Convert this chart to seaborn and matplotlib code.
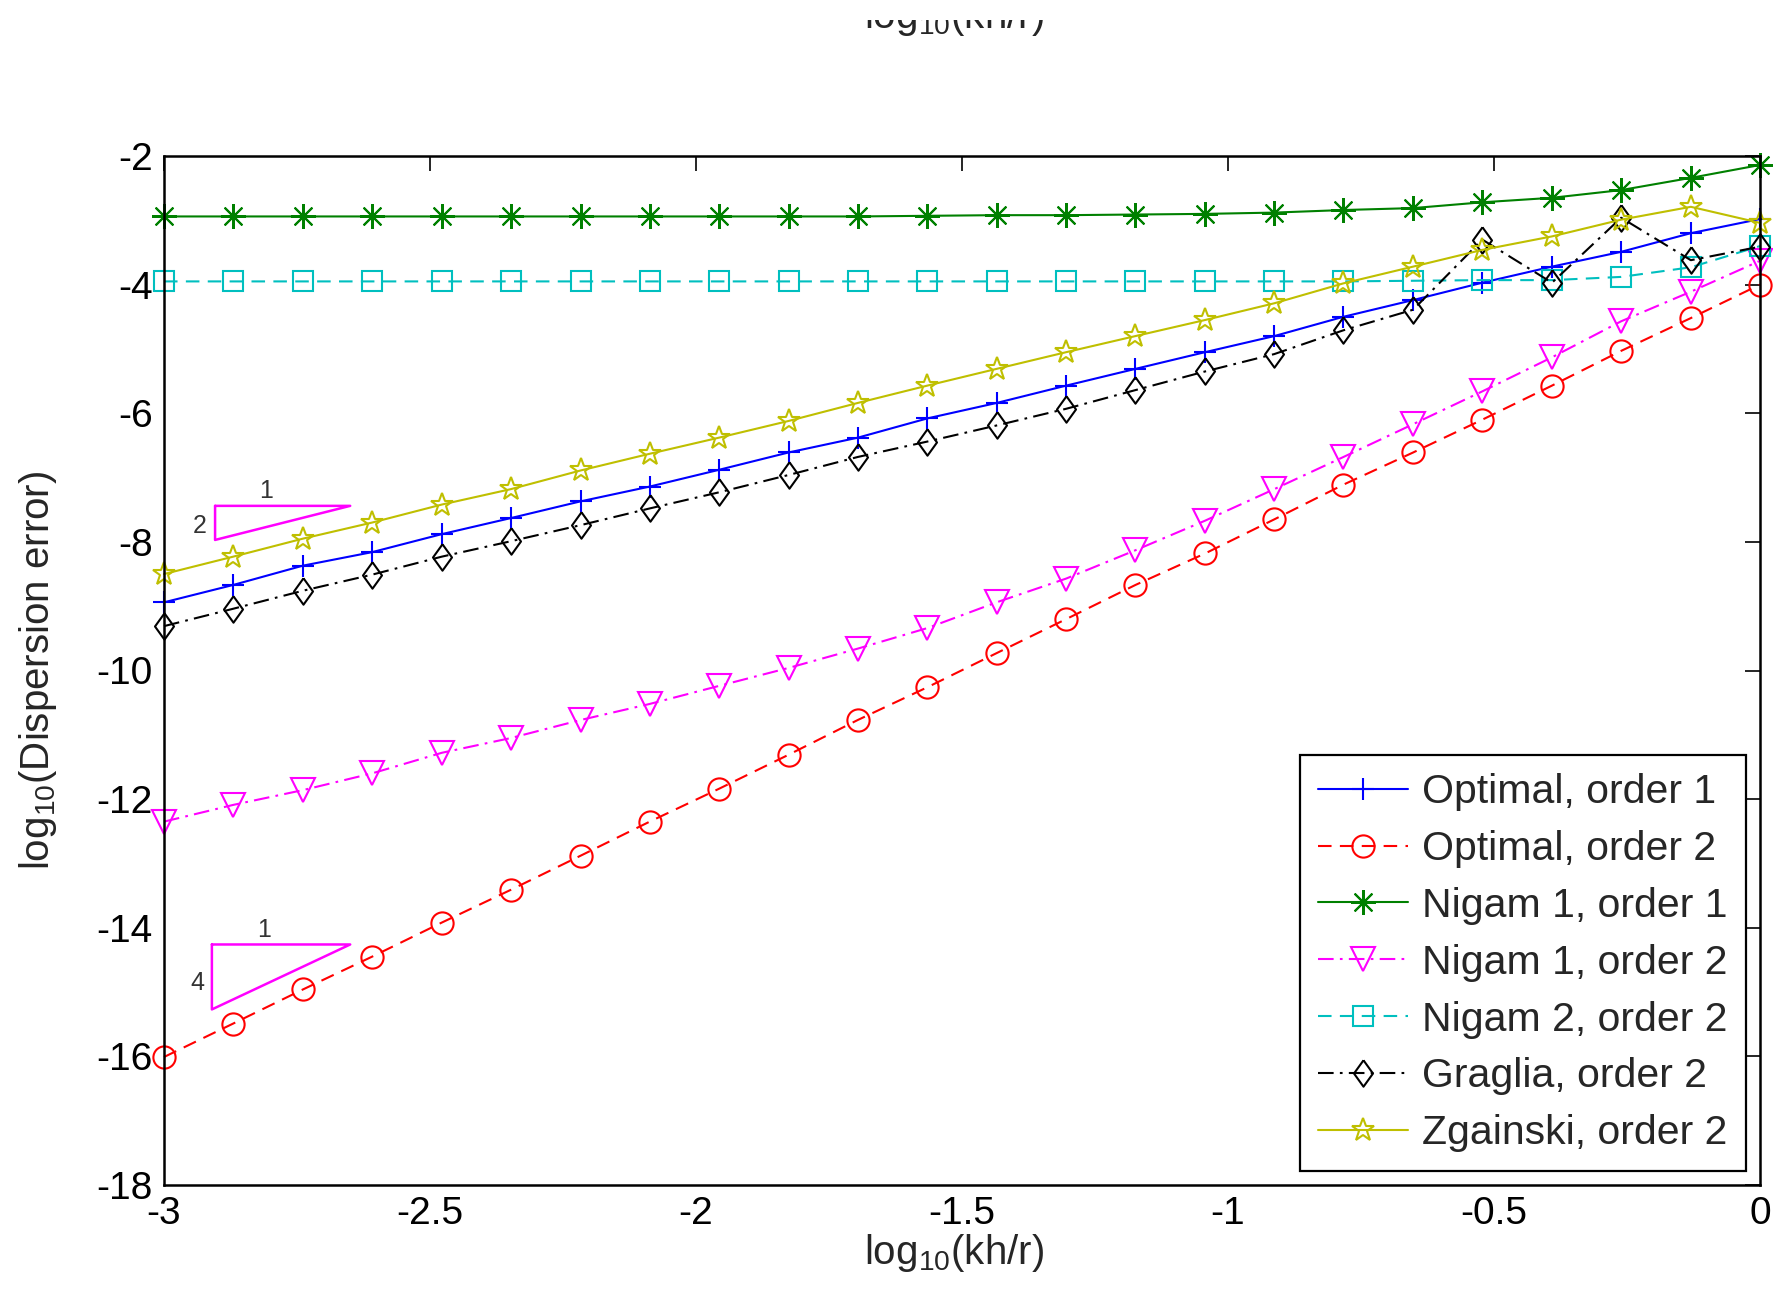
import numpy as np
import pandas as pd
import matplotlib
matplotlib.use("Agg")
import matplotlib.pyplot as plt
from matplotlib.patches import Rectangle
import seaborn as sns

# ---------------- data ----------------
log_kh = [-3.0, -2.870, -2.739, -2.609, -2.478, -2.348, -2.217, -2.087,
          -1.957, -1.826, -1.696, -1.565, -1.435, -1.304, -1.174, -1.043,
          -0.913, -0.783, -0.652, -0.522, -0.391, -0.261, -0.130, 0.0]

optimal_o1 = [-8.94, -8.67, -8.37, -8.16, -7.88, -7.63, -7.37, -7.14, -6.88, -6.61,
              -6.38, -6.08, -5.84, -5.57, -5.31, -5.05, -4.80, -4.50, -4.24, -3.97,
              -3.72, -3.49, -3.20, -2.98]
optimal_o2 = [-16.01, -15.49, -14.96, -14.45, -13.92, -13.41, -12.88, -12.35, -11.84,
              -11.31, -10.77, -10.26, -9.73, -9.20, -8.67, -8.18, -7.65, -7.11, -6.61,
              -6.10, -5.57, -5.03, -4.52, -4.00]
nigam1_o1 = [-2.94, -2.94, -2.94, -2.94, -2.94, -2.94, -2.94, -2.94, -2.94, -2.94,
             -2.94, -2.93, -2.92, -2.92, -2.91, -2.90, -2.88, -2.84, -2.81, -2.72,
             -2.65, -2.53, -2.34, -2.14]
nigam1_o2 = [-12.35, -12.09, -11.86, -11.60, -11.28, -11.05, -10.77, -10.52, -10.24,
             -9.96, -9.66, -9.34, -8.94, -8.57, -8.13, -7.67, -7.18, -6.68, -6.17,
             -5.66, -5.13, -4.57, -4.11, -3.63]
nigam2_o2 = [-3.95, -3.95, -3.95, -3.95, -3.95, -3.95, -3.95, -3.95, -3.95, -3.95,
             -3.95, -3.95, -3.95, -3.95, -3.95, -3.95, -3.95, -3.95, -3.94, -3.93,
             -3.93, -3.88, -3.73, -3.40]
graglia_o2 = [-9.31, -9.04, -8.76, -8.51, -8.23, -7.99, -7.74, -7.48, -7.23, -6.96,
              -6.68, -6.44, -6.19, -5.93, -5.64, -5.35, -5.08, -4.71, -4.39, -3.30,
              -3.97, -2.96, -3.62, -3.41]
zgainski_o2 = [-8.50, -8.23, -7.95, -7.70, -7.42, -7.18, -6.89, -6.63, -6.38, -6.12,
               -5.84, -5.57, -5.31, -5.05, -4.80, -4.55, -4.29, -3.98, -3.72, -3.46,
               -3.25, -2.99, -2.79, -3.04]

labels = ["Optimal, order 1", "Optimal, order 2", "Nigam 1, order 1",
          "Nigam 1, order 2", "Nigam 2, order 2", "Graglia, order 2",
          "Zgainski, order 2"]

x_ticks = [-3, -2.5, -2, -1.5, -1, -0.5, 0]
x_ticklabels = ["-3", "-2.5", "-2", "-1.5", "-1", "-0.5", "0"]
y_ticks = [-18, -16, -14, -12, -10, -8, -6, -4, -2]
y_ticklabels = ["-18", "-16", "-14", "-12", "-10", "-8", "-6", "-4", "-2"]

# slope triangles (annotation): x corners and y corners
tri1_x = [-2.904, -2.65]
tri1_y = [-7.44, -7.97]
tri1_labels = ["1", "2"]
tri2_x = [-2.91, -2.65]
tri2_y = [-14.26, -15.27]
tri2_labels = ["1", "4"]

# ---------------- style ----------------
sns.set_style("white")
plt.rcParams["font.family"] = ["Liberation Sans", "DejaVu Sans"]
plt.rcParams["mathtext.fontset"] = "custom"
plt.rcParams["mathtext.rm"] = "Liberation Sans"
plt.rcParams["mathtext.it"] = "Liberation Sans:italic"
plt.rcParams["mathtext.bf"] = "Liberation Sans:bold"
plt.rcParams["axes.unicode_minus"] = False

fig = plt.figure(figsize=(17.74, 12.91), dpi=100)
fig.patch.set_facecolor("white")
ax = fig.add_axes([164/1774, 1 - 1185/1291, (1760-164)/1774, (1185-156)/1291])

diamond = [(0, 1), (0.72, 0), (0, -1), (-0.72, 0), (0, 1)]

styles = [
    dict(color=(0, 0, 1), marker="+", linestyle="-", ms=16, mfc="none"),
    dict(color=(1, 0, 0), marker="o", linestyle=(0, (6.5, 4)), ms=16, mfc="none"),
    dict(color=(0, 0.5, 0), marker=(8, 2, 0), linestyle="-", ms=18, mfc="none"),
    dict(color=(1, 0, 1), marker="v", linestyle=(0, (7.5, 3, 1.3, 3)), ms=17, mfc="none"),
    dict(color=(0, 0.75, 0.75), marker="s", linestyle=(0, (6.5, 4)), ms=14, mfc="none"),
    dict(color=(0, 0, 0), marker=diamond, linestyle=(0, (7.5, 3, 1.3, 3)), ms=19, mfc="none"),
    dict(color=(0.75, 0.75, 0), marker="*", linestyle="-", ms=17, mfc="none"),
]
series = [optimal_o1, optimal_o2, nigam1_o1, nigam1_o2, nigam2_o2, graglia_o2, zgainski_o2]

for lab, ys, st in zip(labels, series, styles):
    df = pd.DataFrame({"x": log_kh, "y": ys})
    sns.lineplot(data=df, x="x", y="y", ax=ax, label=lab, sort=False, estimator=None,
                 color=st["color"], marker=st["marker"], linestyle=st["linestyle"],
                 markersize=st["ms"], markerfacecolor=st["mfc"],
                 markeredgecolor=st["color"], markeredgewidth=1.5, linewidth=1.5,
                 clip_on=False, legend=False)

# slope triangles
for tx, ty, tl in [(tri1_x, tri1_y, tri1_labels), (tri2_x, tri2_y, tri2_labels)]:
    ax.plot([tx[0], tx[1], tx[0], tx[0]], [ty[0], ty[0], ty[1], ty[0]],
            color=(1, 0, 1), lw=1.8, zorder=5)
    ax.text(tx[0] + 0.38 * (tx[1] - tx[0]), ty[0] + 0.04, tl[0], ha="center",
            va="bottom", fontsize=18, color="#333333")
    ax.text(tx[0] - 0.015, (ty[0] + ty[1]) / 2 - 0.1 * (ty[0] - ty[1]), tl[1],
            ha="right", va="center", fontsize=18, color="#333333")

ax.set_xlim(-3, 0)
ax.set_ylim(-18, -2)
ax.set_xticks(x_ticks)
ax.set_xticklabels(x_ticklabels)
ax.set_yticks(y_ticks)
ax.set_yticklabels(y_ticklabels)
ax.tick_params(direction="in", top=True, right=True, length=11, width=1.2,
               labelsize=28, colors="black", pad=8)
for s in ax.spines.values():
    s.set_color("black")
    s.set_linewidth(1.8)

ax.set_xlabel(r"log$_{\mathrm{10}}$(kh/r)", fontsize=29, va="top")
ax.xaxis.set_label_coords(0.495, -0.046)
ax.set_ylabel(r"log$_{\mathrm{10}}$(Dispersion error)", fontsize=29, va="center")
ax.yaxis.set_label_coords(-0.079, 0.5)

handles, labs = ax.get_legend_handles_labels()
leg = ax.legend(handles, labs, loc="lower right", fontsize=29.5, numpoints=1,
                handlelength=2.2, handletextpad=0.33, labelspacing=0.46,
                borderpad=0.45, borderaxespad=0.35, fancybox=False, framealpha=1)
leg.get_frame().set_edgecolor("black")
leg.get_frame().set_linewidth(1.6)

# clipped label of a preceding panel at the very top
fig.text(954/1774, 1 - 28/1291, r"log$_{\mathrm{10}}$(kh/r)", fontsize=29,
         ha="center", va="baseline")
fig.add_artist(Rectangle((0, 1 - 20/1291), 1, 20/1291, transform=fig.transFigure,
                         facecolor="white", edgecolor="none", zorder=100))

fig.savefig("out.png", dpi=100, facecolor="white")
